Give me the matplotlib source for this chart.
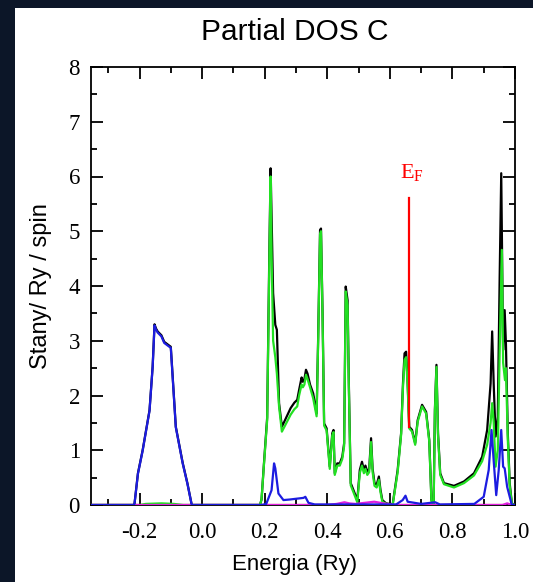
import matplotlib
matplotlib.use("Agg")
import matplotlib.pyplot as plt
from matplotlib.patches import Rectangle
from matplotlib.ticker import MultipleLocator

# total DOS (black)
e_tot = [-0.355, -0.22, -0.216, -0.205, -0.19, -0.168, -0.158, -0.152, -0.147, -0.142, -0.13,
         -0.121, -0.1, -0.096, -0.084, -0.062, -0.047, -0.033, 0.185, 0.19, 0.197, 0.208, 0.215,
         0.219, 0.222, 0.227, 0.234, 0.239, 0.246, 0.255, 0.265, 0.283, 0.295, 0.304, 0.31, 0.318,
         0.322, 0.327, 0.332, 0.337, 0.345, 0.355, 0.366, 0.371, 0.377, 0.38, 0.385, 0.39, 0.398,
         0.408, 0.416, 0.42, 0.424, 0.432, 0.44, 0.448, 0.454, 0.459, 0.465, 0.469, 0.475, 0.488,
         0.496, 0.504, 0.511, 0.517, 0.522, 0.528, 0.534, 0.54, 0.545, 0.551, 0.558, 0.565, 0.57,
         0.576, 0.588, 0.609, 0.625, 0.636, 0.642, 0.647, 0.652, 0.657, 0.662, 0.671, 0.681, 0.689,
         0.703, 0.716, 0.726, 0.733, 0.74, 0.744, 0.749, 0.754, 0.761, 0.773, 0.805, 0.837, 0.869,
         0.895, 0.911, 0.922, 0.927, 0.932, 0.938, 0.945, 0.951, 0.956, 0.962, 0.967, 0.971, 0.977,
         0.983, 0.99, 1.0]
dos_tot = [0, 0, 0.02, 0.58, 1.0, 1.73, 2.53, 3.3, 3.22, 3.17, 3.1,
           2.98, 2.89, 2.53, 1.43, 0.77, 0.4, 0.0, 0, 0.1, 0.7, 1.6, 4.66,
           6.15, 5.3, 3.87, 3.29, 3.2, 1.86, 1.43, 1.55, 1.77, 1.87, 1.92, 2.1, 2.33,
           2.25, 2.3, 2.47, 2.4, 2.2, 2.04, 1.67, 3.07, 5.02, 5.05, 3.5, 1.49, 1.4,
           0.7, 1.31, 1.37, 0.58, 0.76, 0.76, 0.88, 1.13, 3.99, 3.74, 2.22, 0.4, 0.21,
           0.09, 0.64, 0.79, 0.64, 0.72, 0.61, 0.66, 1.22, 0.66, 0.4, 0.37, 0.52, 0.28,
           0.09, 0.03, 0.01, 0.64, 1.31, 2.22, 2.77, 2.8, 2.22, 1.43, 1.37, 1.13, 1.55,
           1.83, 1.7, 1.19, 0.09, 0.03, 1.74, 2.56, 1.31, 0.58, 0.4, 0.35, 0.43, 0.58,
           0.88, 1.37, 2.22, 3.17, 2.2, 1.25, 1.61, 4.17, 6.06, 2.83, 3.56, 2.95, 1.31,
           0.4, 0.03, 0]

# p states (green)
e_p = [-0.355, -0.2, -0.18, -0.13, -0.09, -0.06, 0.185, 0.19, 0.197, 0.208, 0.215, 0.219, 0.222,
       0.227, 0.234, 0.239, 0.246, 0.255, 0.265, 0.283, 0.295, 0.304, 0.31, 0.318, 0.322, 0.327,
       0.332, 0.337, 0.345, 0.355, 0.366, 0.371, 0.377, 0.38, 0.385, 0.39, 0.398, 0.408, 0.416,
       0.42, 0.424, 0.432, 0.44, 0.448, 0.454, 0.459, 0.465, 0.469, 0.475, 0.488, 0.496, 0.504,
       0.511, 0.517, 0.522, 0.528, 0.534, 0.54, 0.545, 0.551, 0.558, 0.565, 0.57, 0.576, 0.588,
       0.609, 0.625, 0.636, 0.642, 0.647, 0.652, 0.657, 0.662, 0.671, 0.681, 0.689, 0.703, 0.716,
       0.726, 0.733, 0.74, 0.744, 0.749, 0.754, 0.761, 0.773, 0.805, 0.837, 0.869, 0.895, 0.911,
       0.922, 0.927, 0.932, 0.938, 0.945, 0.951, 0.958, 0.962, 0.968, 0.971, 0.977, 0.983, 0.99,
       1.0]
dos_p = [0, 0, 0.02, 0.03, 0.02, 0, 0, 0.1, 0.68, 1.55, 4.5, 6.0, 4.6,
         3.0, 2.7, 2.4, 1.8, 1.34, 1.45, 1.65, 1.75, 1.8, 2.0, 2.2, 2.15, 2.2,
         2.38, 2.3, 2.15, 1.95, 1.62, 3.0, 4.95, 5.0, 3.45, 1.45, 1.36, 0.66, 1.27,
         1.33, 0.55, 0.72, 0.72, 0.84, 1.08, 3.9, 3.65, 2.15, 0.36, 0.17, 0.05, 0.58,
         0.72, 0.58, 0.66, 0.55, 0.6, 1.15, 0.6, 0.35, 0.32, 0.46, 0.24, 0.06, 0.02,
         0.0, 0.6, 1.28, 2.15, 2.65, 2.7, 2.15, 1.4, 1.34, 1.1, 1.52, 1.8, 1.67,
         1.16, 0.06, 0.0, 1.7, 2.52, 1.27, 0.55, 0.38, 0.32, 0.4, 0.54, 0.8, 1.1,
         1.5, 1.86, 1.5, 0.7, 1.0, 2.8, 4.66, 2.6, 2.28, 2.5, 1.2, 0.35, 0.02,
         0]

# s states (blue)
e_s = [-0.355, -0.22, -0.216, -0.205, -0.19, -0.168, -0.158, -0.152, -0.147, -0.142, -0.13,
       -0.121, -0.1, -0.096, -0.084, -0.062, -0.047, -0.033, 0.19, 0.205, 0.222, 0.23, 0.234,
       0.244, 0.26, 0.28, 0.324, 0.33, 0.34, 0.36, 0.62, 0.641, 0.65, 0.657, 0.7, 0.745, 0.76,
       0.87, 0.9, 0.916, 0.925, 0.932, 0.94, 0.948, 0.956, 0.962, 0.967, 0.975, 0.99, 1.0]
dos_s = [0, 0, 0.02, 0.57, 0.99, 1.72, 2.52, 3.28, 3.2, 3.15, 3.08,
         2.96, 2.87, 2.51, 1.42, 0.76, 0.39, 0.0, 0, 0.02, 0.27, 0.76, 0.67,
         0.21, 0.09, 0.1, 0.13, 0.15, 0.04, 0.01, 0.01, 0.09, 0.17, 0.06, 0.02, 0.05, 0.01,
         0.02, 0.15, 0.64, 1.37, 0.8, 0.18, 0.64, 1.37, 0.7, 0.67, 0.33, 0.0, 0]

# d states (magenta)
e_d = [-0.355, 0.40, 0.43, 0.455, 0.47, 0.49, 0.52, 0.55, 0.57, 0.6, 0.62, 0.96, 0.975, 0.99, 1.0]
dos_d = [0, 0, 0.02, 0.05, 0.03, 0.02, 0.04, 0.06, 0.04, 0.01, 0, 0, 0.03, 0, 0]

e_fermi = 0.6625
fermi_top = 5.6
fermi_bottom = 1.43

fig = plt.figure(figsize=(5.33, 5.82), dpi=100, facecolor="#0c1628")
fig.patches.append(Rectangle((15 / 533, 0), 1 - 15 / 533, 1 - 8 / 582,
                             transform=fig.transFigure, facecolor="white",
                             edgecolor="none", zorder=-10))

ax = fig.add_axes([91 / 533, 77 / 582, 424 / 533, 438 / 582])
ax.axhline(0, color="#b84a4a", lw=1.6, zorder=1)
ax.plot(e_tot, dos_tot, color="black", lw=1.6, zorder=2)
ax.plot(e_p, dos_p, color="#22e022", lw=1.6, zorder=3)
ax.plot(e_s, dos_s, color="#1c1ce0", lw=1.6, zorder=4)
ax.plot(e_d, dos_d, color="#e020e0", lw=1.6, zorder=3.5)
ax.plot([e_fermi, e_fermi], [fermi_bottom, fermi_top], color="red", lw=1.6, zorder=5)
ax.text(e_fermi + 0.008, 5.97, r"E$_\mathregular{F}$", color="red", ha="center", va="baseline",
        fontsize=16, family="Liberation Serif")

ax.set_xlim(-0.355, 1.0)
ax.set_ylim(0, 8)
ax.xaxis.set_major_locator(MultipleLocator(0.2))
ax.xaxis.set_minor_locator(MultipleLocator(0.1))
ax.yaxis.set_major_locator(MultipleLocator(1))
ax.yaxis.set_minor_locator(MultipleLocator(0.5))
ax.set_xticks([-0.2, 0.0, 0.2, 0.4, 0.6, 0.8, 1.0])
ax.set_xticklabels(["-0.2", "0.0", "0.2", "0.4", "0.6", "0.8", "1.0"])
ax.tick_params(which="both", direction="in", top=True, right=True, width=1.3)
ax.tick_params(which="major", length=8.5)
ax.tick_params(axis="x", which="major", pad=12.5)
ax.tick_params(axis="y", which="major", pad=8)
ax.tick_params(which="minor", length=4)
for lab in ax.get_xticklabels() + ax.get_yticklabels():
    lab.set_family("Liberation Serif")
    lab.set_fontsize(16.5)
for sp in ax.spines.values():
    sp.set_linewidth(1.3)

ax.set_title("Partial DOS C", fontsize=21.5, family="Liberation Sans", pad=19.5, x=0.48)
ax.set_xlabel("Energia (Ry)", fontsize=16, family="Liberation Sans", labelpad=8, x=0.48)
ax.set_ylabel("Stany/ Ry / spin", fontsize=17, family="Liberation Sans", labelpad=12)

fig.savefig("out.png", dpi=100, facecolor=fig.get_facecolor())
